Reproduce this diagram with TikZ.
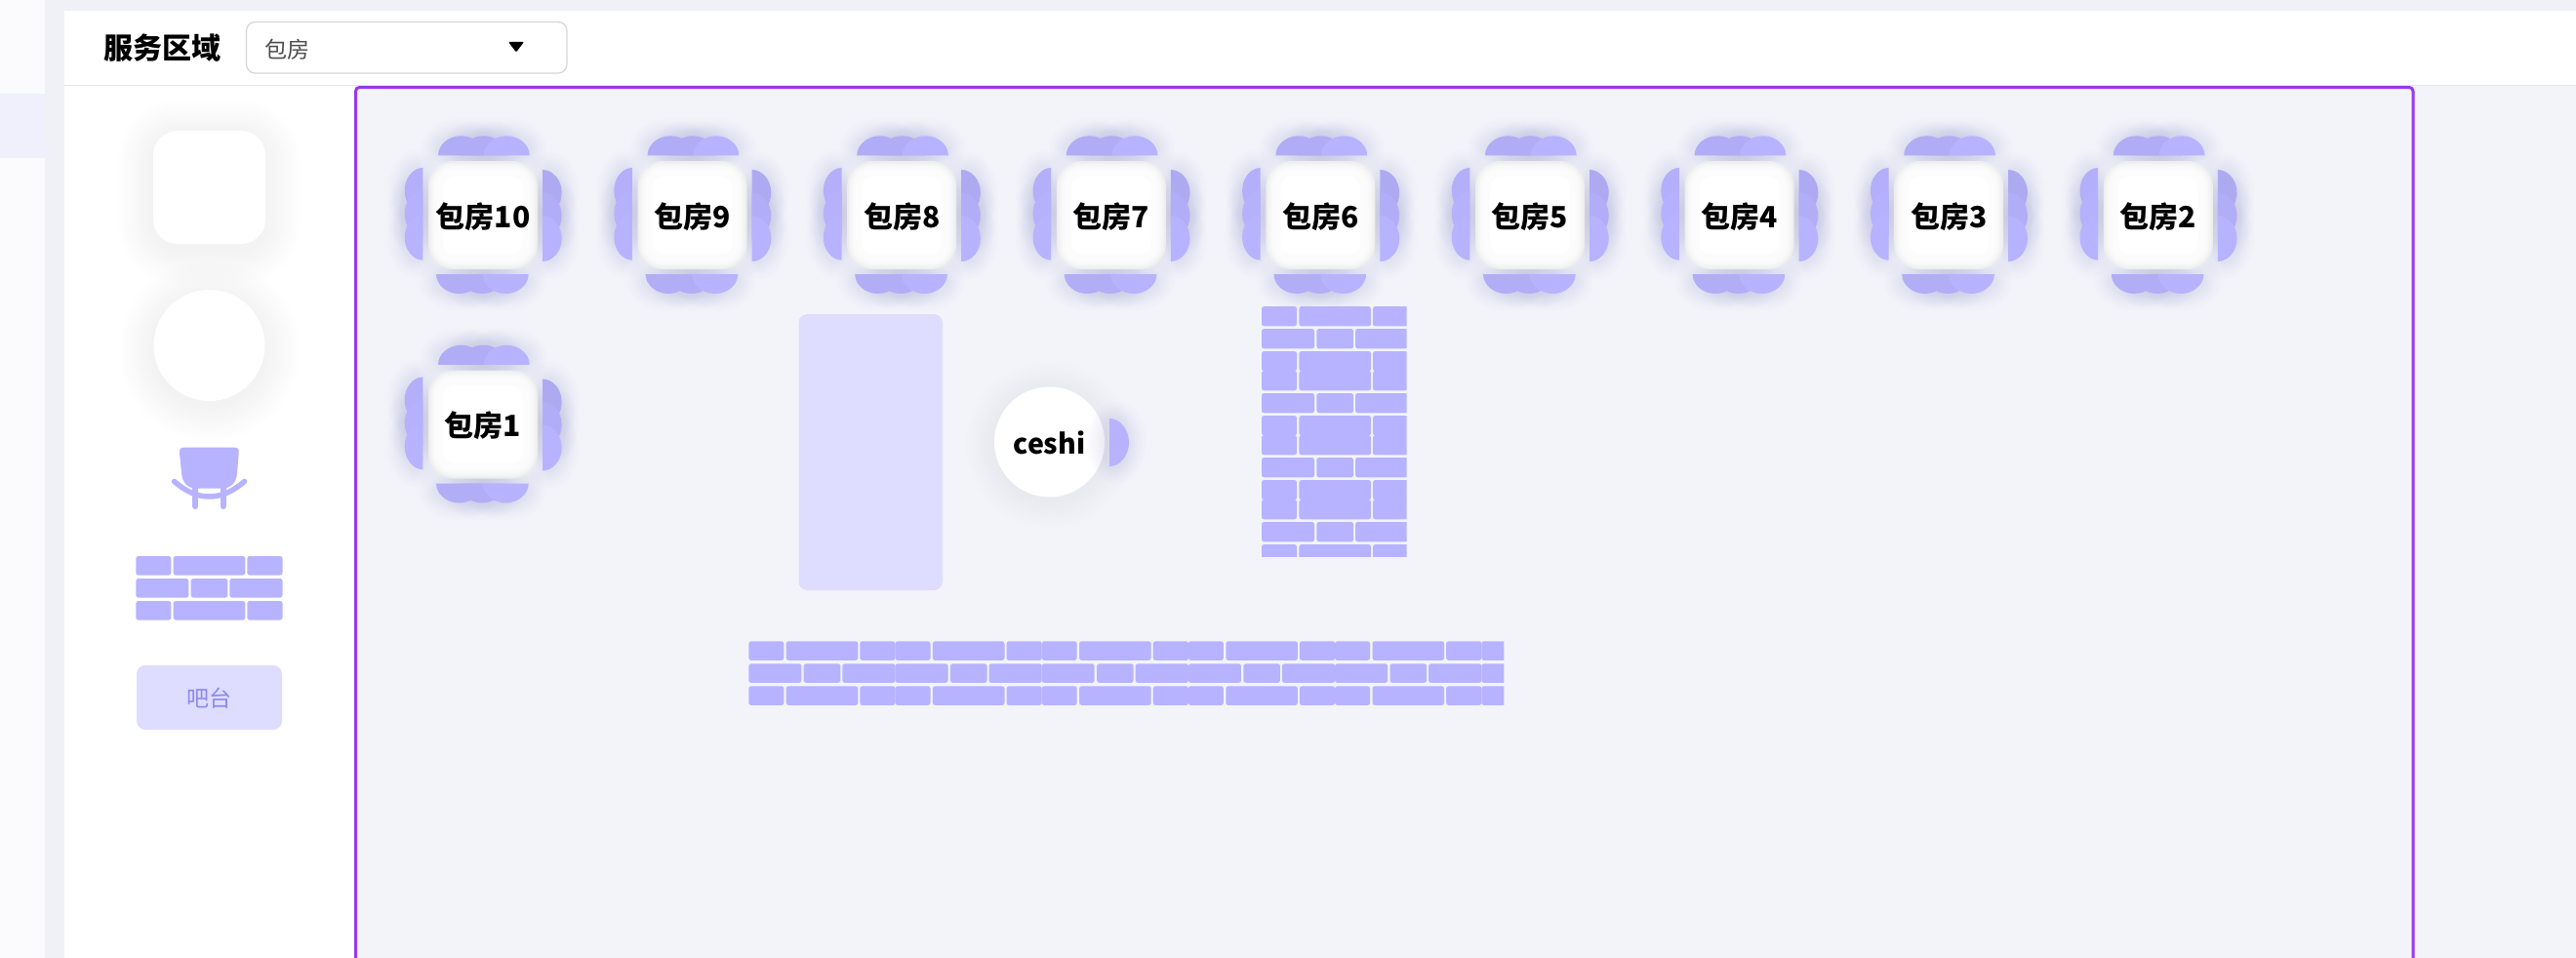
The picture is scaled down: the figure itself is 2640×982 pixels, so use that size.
\documentclass[tikz,border=0pt]{standalone}
\usepackage{fontspec}
\setmainfont{Noto Sans CJK SC}
\usepackage{tikz}
\usepackage{xcolor}
\definecolor{pagegrey}{HTML}{F0F1F6}
\definecolor{sidegrey}{HTML}{FBFBFE}
\definecolor{sidepick}{HTML}{EFF0FC}
\definecolor{canvasgrey}{HTML}{F3F4FA}
\definecolor{framepurple}{HTML}{9B36EE}
\definecolor{seatblue}{HTML}{B7B3FF}
\definecolor{barblue}{HTML}{DEDCFF}
\definecolor{bartext}{HTML}{8B88EE}
\newcommand{\brickh}{19.6}
\newcommand{\seatlist}{-22.5/-61.2/0/23.5/20/96, 0.5/-61.2/0/23.5/20/96, 24.2/-61.2/0/23.5/20/100,
    -24.5/60.5/180/23.5/20/97, -1/60.5/180/23.5/20/97, 23.2/60.5/180/23.5/20/100,
    -61.7/-25/90/23.5/18.6/98, -61.7/-1.5/90/23.5/18.6/99, -61.7/22.7/90/23.5/18.6/100,
    61/-23/-90/23.5/19.7/95, 61/0.5/-90/23.5/19.7/97, 61/24/-90/23.5/19.7/100}
\tikzset{
    seathaze/.style = {fill=black!60!blue!50!white, opacity=0.011},
    softhaze/.style = {fill=black!55!blue!60!white, opacity=0.0035},
    brickfill/.style = {fill=seatblue, rounded corners=2.5pt},
    barfill/.style = {fill=barblue, rounded corners=9pt},
    roomtext/.style = {font=\fontsize{30}{30}\selectfont\bfseries, inner sep=0pt},
    roomset/.pic = {
        \foreach \x/\y/\a/\w/\h/\c in \seatlist {\seathalo{\x}{\y}{\a}{\w}{\h}}
        \foreach \x/\y/\a/\w/\h/\c in \seatlist {\seat{\x}{\y}{\a}{\w}{\h}{\c}}
        \fill[black!7, rounded corners=25pt] (-56,-55.5) rectangle (56,55.5);
        \foreach \d in {1.5,3,...,13.5}
            \fill[white, opacity=0.3, rounded corners={25pt-\d pt}] (-56+\d,-55.5+\d) rectangle (56-\d,55.5-\d);
        \fill[white, rounded corners=12pt] (-41,-40) rectangle (41,40);
    },
    bricktile/.pic = {
        \foreach \a/\b/\r in {0/36/0, 38.4/112/0, 114/150.2/0, 0/54/1, 56.4/94/1, 96/150.2/1, 0/36/2, 38.4/112/2, 114/150.2/2}
            \fill[brickfill] (\a,\r*23) rectangle (\b,\r*23+\brickh);
    },
}
\newcommand{\seathalo}[5]{
    \begin{scope}[shift={(#1,#2)}, rotate=#3]
        \foreach \d in {2,4,...,18}
            \fill[seathaze] (0,-7) ellipse [x radius=#4+\d, y radius=#5-7+\d];
    \end{scope}
}
\newcommand{\seat}[6]{
    \begin{scope}[shift={(#1,#2)}, rotate=#3]
        \fill[seatblue!#6!black] (-#4,0) .. controls (-#4,-0.55*#5) and (-0.55*#4,-#5) .. (0,-#5)
            .. controls (0.55*#4,-#5) and (#4,-0.55*#5) .. (#4,0) -- cycle;
    \end{scope}
}
\newcommand{\roomtable}[4]{
    \pic at ({#2},{#3}) {roomset};
    \node[roomtext] (#1) at ({#2},{#3+1.5}) {#4};
}
\begin{document}
\begin{tikzpicture}[x=1pt, y=-1pt]
\useasboundingbox (0,0) rectangle (2640,982);
\clip (0,0) rectangle (2640,982);
% page and panels
\fill[pagegrey] (0,0) rectangle (2640,982);
\fill[sidegrey] (0,0) rectangle (46,982);
\fill[sidepick] (0,96) rectangle (46,162);
\fill[white] (66,11) rectangle (2640,982);
\fill[canvasgrey] (363,88) rectangle (2640,982);
\draw[black!10, line width=1.2pt] (66,87.5) -- (2640,87.5);
\node[font=\fontsize{30}{30}\selectfont\bfseries, inner sep=0pt] (areatitle) at (166,49) {服务区域};
\draw[black!16, line width=1.2pt, rounded corners=9pt] (252.5,22.5) rectangle (581,75);
\node[font=\fontsize{23}{23}\selectfont, text=black!70, inner sep=0pt, anchor=west] (areapick) at (271,50.5) {包房};
\fill[black, rounded corners=1pt] (521,43) -- (537,43) -- (529,53.5) -- cycle;
\draw[framepurple, line width=3pt, rounded corners=4pt] (364.5,89.5) rectangle (2473,1000);
% template column
\foreach \d in {3,6,...,36}
    \fill[softhaze, rounded corners=25pt+\d pt] (157-\d,134-\d+5) rectangle (272+\d,250+\d+5);
\fill[white, rounded corners=25pt] (157,134) rectangle (272,250);
\foreach \d in {3,6,...,36}
    \fill[softhaze] (214.5,359) circle [radius=57+\d];
\fill[white] (214.5,354) circle [radius=57];
% chair icon
\fill[seatblue] (184,464) .. controls (184,460) and (185,458.7) .. (189,458.7) -- (240,458.7)
    .. controls (244,458.7) and (245,460) .. (244.7,464) -- (243,485)
    .. controls (242,495) and (237,500.7) .. (226,500.7) -- (202,500.7)
    .. controls (192,500.7) and (187,495) .. (186,485) -- cycle;
\draw[seatblue, line width=5.5pt, line cap=round] (178.5,493.5) .. controls (192,505) and (203,509) .. (214.5,509)
    .. controls (226,509) and (237,505) .. (250.5,493.5);
\draw[seatblue, line width=6pt, line cap=round] (200.3,500) -- (200.3,519);
\draw[seatblue, line width=6pt, line cap=round] (228.7,500) -- (228.7,519);
\pic at (139.3,570) {bricktile};
\fill[barfill] (140,682) rectangle (289,748);
\node[font=\fontsize{23}{23}\selectfont, text=bartext, inner sep=0pt] (bartitle) at (214.5,716) {吧台};
% rooms
\foreach \n in {10,9,...,2} {
    \roomtable{room\n}{495+(10-\n)*214.6}{220.5}{包房\n}
}
\roomtable{room1}{495}{435}{包房1}
% bar, round table and walls
\fill[barfill] (818.5,322) rectangle (966,605);
\foreach \d in {3,6,...,30}
    \fill[softhaze] (1075.5,456) circle [radius=56+\d];
\node[circle, fill=white, minimum size=113pt, inner sep=0pt] (roundtable) at (1075.5,453) {};
\seathalo{1137}{453.5}{-90}{24.5}{20}
\seat{1137}{453.5}{-90}{24.5}{20}{100}
\node[roomtext, font=\fontsize{28.5}{28.5}\selectfont\bfseries] (ceshi) at (1075.5,454) {ceshi};
\begin{scope}
    \renewcommand{\brickh}{20.4}
    \clip (1293,314) rectangle (1441.6,570);
    \foreach \i in {0,...,3}
        \pic at (1293,314+\i*66) {bricktile};
\end{scope}
\begin{scope}
    \clip (767.3,657) rectangle (1541.3,724);
    \foreach \i in {0,...,5}
        \pic at (767.3+\i*150.2,657.3) {bricktile};
\end{scope}
\end{tikzpicture}
\end{document}
